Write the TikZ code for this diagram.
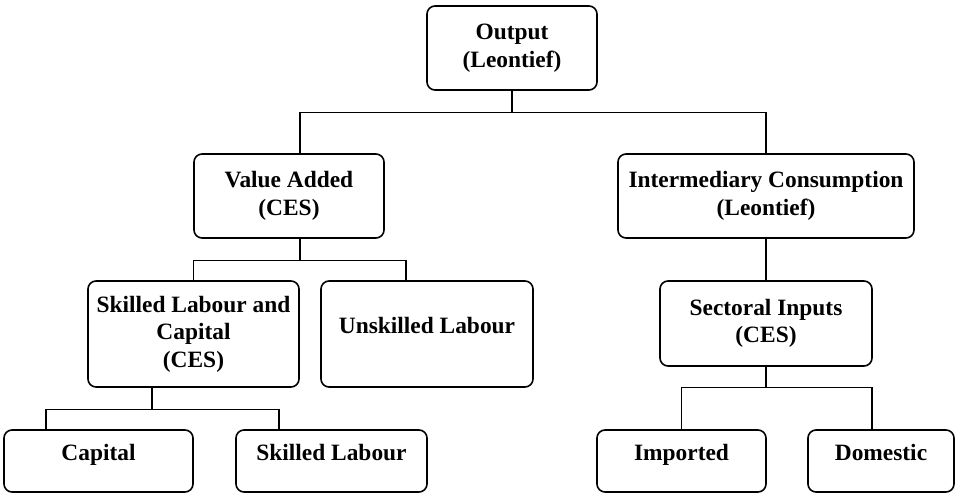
\documentclass[tikz,border=0pt]{standalone}
\usepackage{fontspec}
\setmainfont{Liberation Serif}

\tikzset{
  box/.style={draw, line width=1.6pt, rounded corners=8pt, align=center,
    inner sep=0pt, font=\bfseries\fontsize{23.4}{27.5}\selectfont},
  single/.style={text height=16pt, text depth=18pt},
  link/.style={line width=1.2pt}
}

\begin{document}
\begin{tikzpicture}[x=1pt, y=-1pt]
            \useasboundingbox (0,0) rectangle (956,493);
            % first level
            \node[box, minimum width=170, minimum height=84] (out) at (512,48) {Output\\(Leontief)};
            \node[box, minimum width=190, minimum height=84] (va) at (289,196) {Value Added\\(CES)};
            \node[box, minimum width=296, minimum height=84] (ic) at (766,196) {Intermediary Consumption\\(Leontief)};
            % second level
            \node[box, minimum width=211, minimum height=106] (slc) at (193.5,334) {Skilled Labour and\\Capital\\(CES)};
            \node[box, single, minimum width=212, minimum height=106] (unsk) at (427,334) {Unskilled Labour};
            \node[box, minimum width=212, minimum height=85] (si) at (766,323.5) {Sectoral Inputs\\(CES)};
            % bottom row
            \node[box, single, minimum width=189, minimum height=62] (cap) at (98.5,461) {Capital};
            \node[box, single, minimum width=191, minimum height=62] (skl) at (331.5,461) {Skilled Labour};
            \node[box, single, minimum width=169, minimum height=62] (imp) at (681.5,461) {Imported};
            \node[box, single, minimum width=146, minimum height=62] (dom) at (881,461) {Domestic};
            % connectors
            \draw[link] (out.south) -- ++(0,22) -| ([xshift=11]va.north);
            \draw[link] (out.south) -- ++(0,22) -| (ic.north);
            \draw[link] ([xshift=11]va.south) -- ++(0,22) -| (slc.north);
            \draw[link] ([xshift=11]va.south) -- ++(0,22) -| ([xshift=-21]unsk.north);
            \draw[link] (ic.south) -- (si.north);
            \draw[link] ([xshift=-41.5]slc.south) -- ++(0,22) -| ([xshift=-52.5]cap.north);
            \draw[link] ([xshift=-41.5]slc.south) -- ++(0,22) -| ([xshift=-52.5]skl.north);
            \draw[link] (si.south) -- ++(0,21) -| (imp.north);
            \draw[link] (si.south) -- ++(0,21) -| ([xshift=-9]dom.north);
        \end{tikzpicture}
\end{document}
